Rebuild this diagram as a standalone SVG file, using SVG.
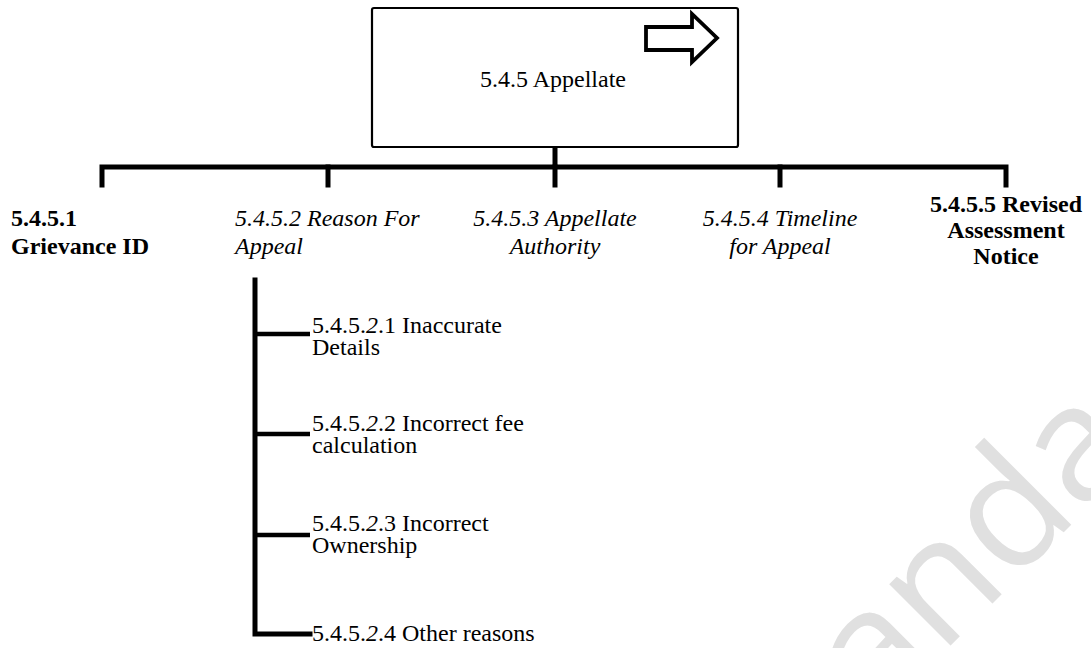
<svg xmlns="http://www.w3.org/2000/svg" width="1091" height="648" viewBox="0 0 1091 648">
<style>
  .t { font-family: "Liberation Serif", "DejaVu Serif", serif; font-size: 24px; fill: #000; }
  .b { font-weight: bold; }
  .i { font-style: italic; }
  .c { text-anchor: middle; }
  .thick { stroke: #000; stroke-width: 5; fill: none; stroke-linecap: square; }
  .thin { stroke: #000; stroke-width: 4.5; fill: none; }
  .wm { font-family: "Open Sans", "DejaVu Sans", sans-serif; font-size: 162px; fill: #e0e0e0; }
</style>
<rect width="1091" height="648" fill="#fff"/>
<text class="wm" transform="translate(877,719) rotate(-45)">anda</text>

<g id="connectors">
  <line class="thick" x1="555" y1="148" x2="555" y2="165"/>
  <polyline class="thick" points="102,185 102,167 1006,167 1006,185"/>
  <line class="thick" x1="328" y1="167" x2="328" y2="185"/>
  <line class="thick" x1="555" y1="167" x2="555" y2="185"/>
  <line class="thick" x1="780" y1="167" x2="780" y2="185"/>
  <polyline class="thick" points="255,280 255,634 310,634"/>
  <line class="thin" x1="255" y1="334" x2="310" y2="334"/>
  <line class="thin" x1="255" y1="434" x2="310" y2="434"/>
  <line class="thin" x1="255" y1="535" x2="310" y2="535"/>
</g>

<g id="node-545">
  <rect x="372" y="8" width="366" height="139" rx="2" fill="#fff" stroke="#000" stroke-width="2.2"/>
  <path d="M646,27 L692,27 L692,14 L717,38 L692,62 L692,50 L646,50 Z" fill="#fff" stroke="#000" stroke-width="3.8" stroke-linejoin="miter"/>
  <text class="t c" x="553" y="87">5.4.5 Appellate</text>
</g>

<g id="node-5451">
  <text class="t b" x="11" y="226">5.4.5.1</text>
  <text class="t b" x="11" y="254">Grievance ID</text>
</g>

<g id="node-5452">
  <text class="t i" x="235" y="226">5.4.5.2 Reason For</text>
  <text class="t i" x="235" y="254">Appeal</text>
</g>

<g id="node-5453">
  <text class="t i c" x="555" y="226">5.4.5.3 Appellate</text>
  <text class="t i c" x="555" y="254">Authority</text>
</g>

<g id="node-5454">
  <text class="t i c" x="780" y="226">5.4.5.4 Timeline</text>
  <text class="t i c" x="780" y="254">for Appeal</text>
</g>

<g id="node-5455">
  <text class="t b c" x="1006" y="212">5.4.5.5 Revised</text>
  <text class="t b c" x="1006" y="238">Assessment</text>
  <text class="t b c" x="1006" y="264">Notice</text>
</g>

<g id="node-54521">
  <text class="t" x="312" y="333">5.4.5.<tspan class="i">2</tspan>.1 Inaccurate</text>
  <text class="t" x="312" y="355">Details</text>
</g>

<g id="node-54522">
  <text class="t" x="312" y="431">5.4.5.<tspan class="i">2</tspan>.2 Incorrect fee</text>
  <text class="t" x="312" y="453">calculation</text>
</g>

<g id="node-54523">
  <text class="t" x="312" y="531">5.4.5.<tspan class="i">2</tspan>.3 Incorrect</text>
  <text class="t" x="312" y="553">Ownership</text>
</g>

<g id="node-54524">
  <text class="t" x="312" y="641">5.4.5.<tspan class="i">2</tspan>.4 Other reasons</text>
</g>
</svg>
